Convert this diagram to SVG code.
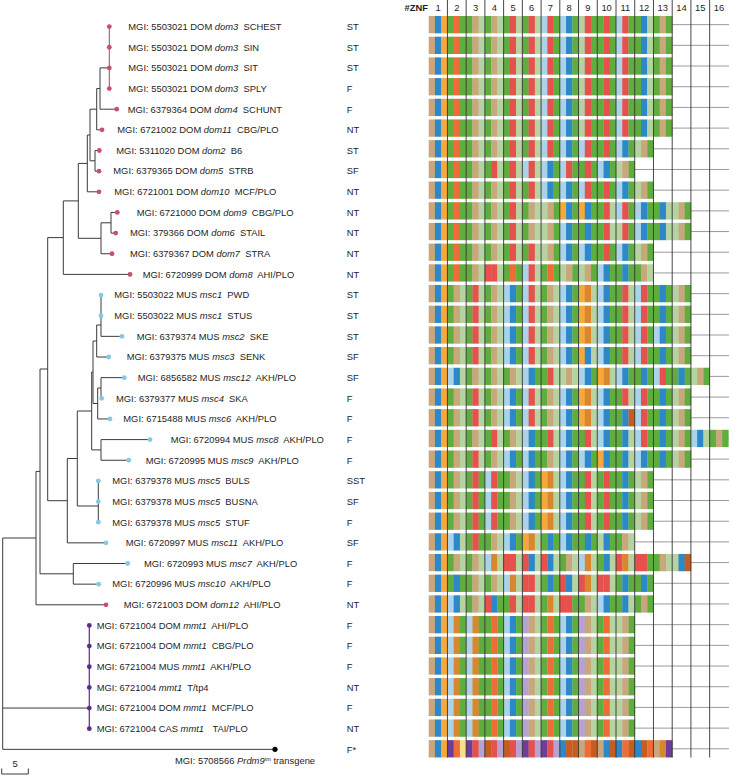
<svg xmlns="http://www.w3.org/2000/svg" width="729" height="776" viewBox="0 0 729 776">
<style>
text{font-family:"Liberation Sans",Arial,Helvetica,sans-serif;font-size:9.4px;fill:#1e1e1e}
.i{font-style:italic}
.hd{text-anchor:middle}
.tr{fill:none;stroke:#3a3a3a;stroke-width:1}
.dom{fill:#C8506A}.msc{fill:#86C8E6}.mmt{fill:#5A2C8E}
.hg{fill:none;stroke:#9a9a9a;stroke-width:1}
.vg{fill:none;stroke:#333;stroke-width:0.9}
</style>
<defs>
<rect id="T" width="6.5" height="17.3" fill="#C8A77D"/>
<rect id="B" width="6.5" height="17.3" fill="#2C88C8"/>
<rect id="O" width="6.5" height="17.3" fill="#F5A83C"/>
<rect id="G" width="6.5" height="17.3" fill="#5FAD3E"/>
<rect id="E" width="6.5" height="17.3" fill="#EE6C36"/>
<rect id="R" width="6.5" height="17.3" fill="#E6504D"/>
<rect id="S" width="6.5" height="17.3" fill="#B4D3A1"/>
<rect id="L" width="6.5" height="17.3" fill="#AAD3EA"/>
<rect id="D" width="6.5" height="17.3" fill="#D8872F"/>
<rect id="P" width="6.5" height="17.3" fill="#B6A2D2"/>
<rect id="V" width="6.5" height="17.3" fill="#6C3E99"/>
<rect id="U" width="6.5" height="17.3" fill="#C55D22"/>
<rect id="Y" width="6.5" height="17.3" fill="#F8E08A"/>
<g id="TBO"><use href="#T"/><use href="#B" x="6.24"/><use href="#O" x="12.49"/></g>
<g id="GEG"><use href="#G"/><use href="#E" x="6.24"/><use href="#G" x="12.49"/></g>
<g id="GTS"><use href="#G"/><use href="#T" x="6.24"/><use href="#S" x="12.49"/></g>
<g id="GRS"><use href="#G"/><use href="#R" x="6.24"/><use href="#S" x="12.49"/></g>
<g id="LRG"><use href="#L"/><use href="#R" x="6.24"/><use href="#G" x="12.49"/></g>
<g id="LBG"><use href="#L"/><use href="#B" x="6.24"/><use href="#G" x="12.49"/></g>
<g id="GRG"><use href="#G"/><use href="#R" x="6.24"/><use href="#G" x="12.49"/></g>
<g id="GBS"><use href="#G"/><use href="#B" x="6.24"/><use href="#S" x="12.49"/></g>
<g id="STG"><use href="#S"/><use href="#T" x="6.24"/><use href="#G" x="12.49"/></g>
<g id="LRS"><use href="#L"/><use href="#R" x="6.24"/><use href="#S" x="12.49"/></g>
<g id="OBG"><use href="#O"/><use href="#B" x="6.24"/><use href="#G" x="12.49"/></g>
<g id="GBG"><use href="#G"/><use href="#B" x="6.24"/><use href="#G" x="12.49"/></g>
<g id="SRG"><use href="#S"/><use href="#R" x="6.24"/><use href="#G" x="12.49"/></g>
<g id="RRS"><use href="#R"/><use href="#R" x="6.24"/><use href="#S" x="12.49"/></g>
<g id="ODS"><use href="#O"/><use href="#D" x="6.24"/><use href="#S" x="12.49"/></g>
<g id="OBS"><use href="#O"/><use href="#B" x="6.24"/><use href="#S" x="12.49"/></g>
<g id="LBS"><use href="#L"/><use href="#B" x="6.24"/><use href="#S" x="12.49"/></g>
<g id="STS"><use href="#S"/><use href="#T" x="6.24"/><use href="#S" x="12.49"/></g>
<g id="GBU"><use href="#G"/><use href="#B" x="6.24"/><use href="#U" x="12.49"/></g>
<g id="GTG"><use href="#G"/><use href="#T" x="6.24"/><use href="#G" x="12.49"/></g>
<g id="SBG"><use href="#S"/><use href="#B" x="6.24"/><use href="#G" x="12.49"/></g>
<g id="LDS"><use href="#L"/><use href="#D" x="6.24"/><use href="#S" x="12.49"/></g>
<g id="GDS"><use href="#G"/><use href="#D" x="6.24"/><use href="#S" x="12.49"/></g>
<g id="RBS"><use href="#R"/><use href="#B" x="6.24"/><use href="#S" x="12.49"/></g>
<g id="RDS"><use href="#R"/><use href="#D" x="6.24"/><use href="#S" x="12.49"/></g>
<g id="RRG"><use href="#R"/><use href="#R" x="6.24"/><use href="#G" x="12.49"/></g>
<g id="SBU"><use href="#S"/><use href="#B" x="6.24"/><use href="#U" x="12.49"/></g>
<g id="RRB"><use href="#R"/><use href="#R" x="6.24"/><use href="#B" x="12.49"/></g>
<g id="RBG"><use href="#R"/><use href="#B" x="6.24"/><use href="#G" x="12.49"/></g>
<g id="LDG"><use href="#L"/><use href="#D" x="6.24"/><use href="#G" x="12.49"/></g>
<g id="PTS"><use href="#P"/><use href="#T" x="6.24"/><use href="#S" x="12.49"/></g>
<g id="GES"><use href="#G"/><use href="#E" x="6.24"/><use href="#S" x="12.49"/></g>
<g id="VEY"><use href="#V"/><use href="#E" x="6.24"/><use href="#Y" x="12.49"/></g>
<g id="VRP"><use href="#V"/><use href="#R" x="6.24"/><use href="#P" x="12.49"/></g>
<g id="URP"><use href="#U"/><use href="#R" x="6.24"/><use href="#P" x="12.49"/></g>
<g id="BUU"><use href="#B"/><use href="#U" x="6.24"/><use href="#U" x="12.49"/></g>
<g id="TEU"><use href="#T"/><use href="#E" x="6.24"/><use href="#U" x="12.49"/></g>
<g id="TBU"><use href="#T"/><use href="#B" x="6.24"/><use href="#U" x="12.49"/></g>
<g id="BEU"><use href="#B"/><use href="#E" x="6.24"/><use href="#U" x="12.49"/></g>
<g id="BUE"><use href="#B"/><use href="#U" x="6.24"/><use href="#E" x="12.49"/></g>
<g id="TDV"><use href="#T"/><use href="#D" x="6.24"/><use href="#V" x="12.49"/></g>

<g id="rA"><use href="#TBO"/><use href="#GEG" x="18.73"/><use href="#GTS" x="37.46"/><use href="#GTS" x="56.19"/><use href="#GRS" x="74.92"/><use href="#GRS" x="93.65"/><use href="#LRG" x="112.38"/><use href="#LBG" x="131.11"/><use href="#SRG" x="149.84"/><use href="#GRG" x="168.57"/><use href="#LRG" x="187.3"/><use href="#GBS" x="206.03"/><use href="#GTG" x="224.76"/></g>
<g id="r07"><use href="#TBO"/><use href="#GEG" x="18.73"/><use href="#GTS" x="37.46"/><use href="#GTS" x="56.19"/><use href="#GRS" x="74.92"/><use href="#GRS" x="93.65"/><use href="#LRG" x="112.38"/><use href="#LBG" x="131.11"/><use href="#LRG" x="149.84"/><use href="#GRG" x="168.57"/><use href="#LBG" x="187.3"/><use href="#STG" x="206.03"/></g>
<g id="r08"><use href="#TBO"/><use href="#GEG" x="18.73"/><use href="#GTS" x="37.46"/><use href="#GRS" x="56.19"/><use href="#GRS" x="74.92"/><use href="#LRS" x="93.65"/><use href="#LBG" x="112.38"/><use href="#LRG" x="131.11"/><use href="#GRG" x="149.84"/><use href="#LBG" x="168.57"/><use href="#STG" x="187.3"/></g>
<g id="r09"><use href="#TBO"/><use href="#GEG" x="18.73"/><use href="#GTS" x="37.46"/><use href="#GTS" x="56.19"/><use href="#GRS" x="74.92"/><use href="#GRS" x="93.65"/><use href="#LBG" x="112.38"/><use href="#LBG" x="131.11"/><use href="#LRG" x="149.84"/><use href="#GRG" x="168.57"/><use href="#LBG" x="187.3"/><use href="#STG" x="206.03"/></g>
<g id="r10"><use href="#TBO"/><use href="#GEG" x="18.73"/><use href="#GTS" x="37.46"/><use href="#GTS" x="56.19"/><use href="#GRS" x="74.92"/><use href="#GTS" x="93.65"/><use href="#STG" x="112.38"/><use href="#OBG" x="131.11"/><use href="#OBG" x="149.84"/><use href="#GRS" x="168.57"/><use href="#LRG" x="187.3"/><use href="#LBG" x="206.03"/><use href="#GBS" x="224.76"/><use href="#STG" x="243.49"/></g>
<g id="r11"><use href="#TBO"/><use href="#GEG" x="18.73"/><use href="#GTS" x="37.46"/><use href="#GTS" x="56.19"/><use href="#GRS" x="74.92"/><use href="#GTS" x="93.65"/><use href="#STG" x="112.38"/><use href="#LBG" x="131.11"/><use href="#GBG" x="149.84"/><use href="#GRS" x="168.57"/><use href="#SRG" x="187.3"/><use href="#LBG" x="206.03"/><use href="#GBS" x="224.76"/><use href="#STG" x="243.49"/></g>
<g id="r12"><use href="#TBO"/><use href="#GEG" x="18.73"/><use href="#GTS" x="37.46"/><use href="#GTS" x="56.19"/><use href="#GRS" x="74.92"/><use href="#GRS" x="93.65"/><use href="#STG" x="112.38"/><use href="#LBG" x="131.11"/><use href="#LBG" x="149.84"/><use href="#GRG" x="168.57"/><use href="#LBG" x="187.3"/><use href="#STG" x="206.03"/></g>
<g id="r13"><use href="#TBO"/><use href="#GEG" x="18.73"/><use href="#GTS" x="37.46"/><use href="#RRS" x="56.19"/><use href="#GEG" x="74.92"/><use href="#LRS" x="93.65"/><use href="#GEG" x="112.38"/><use href="#STG" x="131.11"/><use href="#STG" x="149.84"/><use href="#LBG" x="168.57"/><use href="#GBG" x="187.3"/><use href="#GTS" x="206.03"/></g>
<g id="r14"><use href="#TBO"/><use href="#GTS" x="18.73"/><use href="#GRS" x="37.46"/><use href="#GTS" x="56.19"/><use href="#LBG" x="74.92"/><use href="#LRS" x="93.65"/><use href="#GTS" x="112.38"/><use href="#LBG" x="131.11"/><use href="#ODS" x="149.84"/><use href="#LBG" x="168.57"/><use href="#GRS" x="187.3"/><use href="#LRG" x="206.03"/><use href="#GBG" x="224.76"/><use href="#STG" x="243.49"/></g>
<g id="r16"><use href="#TBO"/><use href="#GTS" x="18.73"/><use href="#GRS" x="37.46"/><use href="#GTS" x="56.19"/><use href="#LBG" x="74.92"/><use href="#LRS" x="93.65"/><use href="#GTS" x="112.38"/><use href="#LBG" x="131.11"/><use href="#ODS" x="149.84"/><use href="#LBG" x="168.57"/><use href="#GRS" x="187.3"/><use href="#LRG" x="206.03"/><use href="#LBG" x="224.76"/><use href="#STG" x="243.49"/></g>
<g id="r17"><use href="#TBO"/><use href="#GTS" x="18.73"/><use href="#GRS" x="37.46"/><use href="#GTS" x="56.19"/><use href="#LBG" x="74.92"/><use href="#LRS" x="93.65"/><use href="#GTS" x="112.38"/><use href="#LBG" x="131.11"/><use href="#OBS" x="149.84"/><use href="#LBG" x="168.57"/><use href="#GRS" x="187.3"/><use href="#LRG" x="206.03"/><use href="#GBG" x="224.76"/><use href="#STG" x="243.49"/></g>
<g id="r18"><use href="#TBO"/><use href="#LBS" x="18.73"/><use href="#GTS" x="37.46"/><use href="#GTS" x="56.19"/><use href="#GTS" x="74.92"/><use href="#LBG" x="93.65"/><use href="#GRS" x="112.38"/><use href="#STS" x="131.11"/><use href="#LBG" x="149.84"/><use href="#ODS" x="168.57"/><use href="#LBG" x="187.3"/><use href="#GBG" x="206.03"/><use href="#LRG" x="224.76"/><use href="#GBG" x="243.49"/><use href="#STG" x="262.22"/></g>
<g id="r20"><use href="#TBO"/><use href="#GTS" x="18.73"/><use href="#GRS" x="37.46"/><use href="#GTS" x="56.19"/><use href="#LBG" x="74.92"/><use href="#LRS" x="93.65"/><use href="#GTS" x="112.38"/><use href="#LBG" x="131.11"/><use href="#ODS" x="149.84"/><use href="#LBG" x="168.57"/><use href="#GBU" x="187.3"/><use href="#LRG" x="206.03"/><use href="#GBG" x="224.76"/><use href="#STG" x="243.49"/></g>
<g id="r21"><use href="#TBO"/><use href="#GTS" x="18.73"/><use href="#GTS" x="37.46"/><use href="#GRS" x="56.19"/><use href="#GTS" x="74.92"/><use href="#LBG" x="93.65"/><use href="#GRS" x="112.38"/><use href="#LBG" x="131.11"/><use href="#GRS" x="149.84"/><use href="#LBG" x="168.57"/><use href="#GBS" x="187.3"/><use href="#LRG" x="206.03"/><use href="#GBG" x="224.76"/><use href="#STG" x="243.49"/><use href="#LBS" x="262.22"/><use href="#GTG" x="280.95"/></g>
<g id="r22"><use href="#TBO"/><use href="#GTS" x="18.73"/><use href="#GRS" x="37.46"/><use href="#GTS" x="56.19"/><use href="#LBG" x="74.92"/><use href="#LBG" x="93.65"/><use href="#GTS" x="112.38"/><use href="#LBG" x="131.11"/><use href="#LBG" x="149.84"/><use href="#OBG" x="168.57"/><use href="#GBS" x="187.3"/><use href="#LBG" x="206.03"/><use href="#GBG" x="224.76"/><use href="#STG" x="243.49"/></g>
<g id="r23"><use href="#TBO"/><use href="#GTS" x="18.73"/><use href="#GRG" x="37.46"/><use href="#LRG" x="56.19"/><use href="#GTS" x="74.92"/><use href="#LBG" x="93.65"/><use href="#ODS" x="112.38"/><use href="#LBG" x="131.11"/><use href="#GRS" x="149.84"/><use href="#GRG" x="168.57"/><use href="#GBG" x="187.3"/><use href="#STG" x="206.03"/></g>
<g id="r26"><use href="#TBO"/><use href="#LBS" x="18.73"/><use href="#GRG" x="37.46"/><use href="#GTS" x="56.19"/><use href="#LBG" x="74.92"/><use href="#ODS" x="93.65"/><use href="#GBG" x="112.38"/><use href="#LBG" x="131.11"/><use href="#GBG" x="149.84"/><use href="#SBG" x="168.57"/><use href="#GTS" x="187.3"/></g>
<g id="r27"><use href="#TBO"/><use href="#GTS" x="18.73"/><use href="#GTS" x="37.46"/><use href="#LDS" x="56.19"/><use href="#RRS" x="74.92"/><use href="#RBS" x="93.65"/><use href="#RBS" x="112.38"/><use href="#GTS" x="131.11"/><use href="#LDS" x="149.84"/><use href="#GBS" x="168.57"/><use href="#RDS" x="187.3"/><use href="#RRG" x="206.03"/><use href="#GTS" x="224.76"/><use href="#SBU" x="243.49"/></g>
<g id="r28"><use href="#TBO"/><use href="#GBG" x="18.73"/><use href="#GTS" x="37.46"/><use href="#GTS" x="56.19"/><use href="#LDS" x="74.92"/><use href="#RRS" x="93.65"/><use href="#GBG" x="112.38"/><use href="#RBS" x="131.11"/><use href="#RDS" x="149.84"/><use href="#RRS" x="168.57"/><use href="#GBG" x="187.3"/><use href="#GBG" x="206.03"/></g>
<g id="r29"><use href="#TBO"/><use href="#LBS" x="18.73"/><use href="#GTS" x="37.46"/><use href="#RBG" x="56.19"/><use href="#GRS" x="74.92"/><use href="#RRS" x="93.65"/><use href="#GDS" x="112.38"/><use href="#RRG" x="131.11"/><use href="#GTS" x="149.84"/><use href="#LBG" x="168.57"/><use href="#GBS" x="187.3"/><use href="#GTG" x="206.03"/></g>
<g id="r30"><use href="#TBO"/><use href="#LDG" x="18.73"/><use href="#LDG" x="37.46"/><use href="#GEG" x="56.19"/><use href="#LBG" x="74.92"/><use href="#PTS" x="93.65"/><use href="#GEG" x="112.38"/><use href="#LBG" x="131.11"/><use href="#PTS" x="149.84"/><use href="#GES" x="168.57"/><use href="#STG" x="187.3"/></g>
<g id="r36"><use href="#TBO"/><use href="#VEY" x="18.73"/><use href="#VRP" x="37.46"/><use href="#URP" x="56.19"/><use href="#URP" x="74.92"/><use href="#VRP" x="93.65"/><use href="#VRP" x="112.38"/><use href="#BUU" x="131.11"/><use href="#TEU" x="149.84"/><use href="#TBU" x="168.57"/><use href="#BEU" x="187.3"/><use href="#BUE" x="206.03"/><use href="#TDV" x="224.76"/></g>
</defs>

<rect width="729" height="776" fill="#fff"/>

<g id="header">
<text x="428" y="11" style="font-weight:bold;text-anchor:end">#ZNF</text>
<text class="hd" x="438.07" y="11">1</text><text class="hd" x="456.8" y="11">2</text><text class="hd" x="475.53" y="11">3</text><text class="hd" x="494.26" y="11">4</text><text class="hd" x="512.99" y="11">5</text><text class="hd" x="531.72" y="11">6</text><text class="hd" x="550.45" y="11">7</text><text class="hd" x="569.18" y="11">8</text><text class="hd" x="587.91" y="11">9</text><text class="hd" x="606.64" y="11">10</text><text class="hd" x="625.37" y="11">11</text><text class="hd" x="644.1" y="11">12</text><text class="hd" x="662.83" y="11">13</text><text class="hd" x="681.56" y="11">14</text><text class="hd" x="700.29" y="11">15</text><text class="hd" x="719.02" y="11">16</text>
</g>

<g id="row-gridlines">
<path class="hg" d="M429 24.65H729M429 45.34H729M429 66.03H729M429 86.72H729M429 107.41H729M429 128.1H729M429 148.79H729M429 169.48H729M429 190.17H729M429 210.86H729M429 231.55H729M429 252.24H729M429 272.93H729M429 293.62H729M429 314.31H729M429 335H729M429 355.69H729M429 376.38H729M429 397.07H729M429 417.76H729M429 438.45H729M429 459.14H729M429 479.83H729M429 500.52H729M429 521.21H729M429 541.9H729M429 562.59H729M429 583.28H729M429 603.97H729M429 624.66H729M429 645.35H729M429 666.04H729M429 686.73H729M429 707.42H729M429 728.11H729M429 748.8H729"/>
</g>

<g id="connectors">
<path class="tr" d="M100 67.9H109.3M100 67.9V109.2H116.7M96.7 88.55H100M96.7 88.55V129.85H102M90 109.2H96.7M95 150.5V171.15M95 150.5H99.3M95 171.15H99M90 160.8H95M90 109.2V160.8M87.3 135H90M87.3 135V191.8H99M78.3 163.4H87.3M111 212.45V233.1M111 212.45H117.3M111 233.1H115.7M101 222.8H111M101 222.8V253.75H112M78.3 238.3H101M78.3 163.4V238.3M63.3 200.9H78.3M63.3 200.9V274.4H130M47.7 237.6H63.3"/>
<path class="tr" d="M101 295.05V336.35H122M96.7 325H101M96.7 325V357H108.7M93 341H96.7M101 377.65V398.3M101 377.65H124.3M101 398.3H101.7M97.7 388H101M97.7 388V418.95H110M93 403.5H97.7M93 341V403.5M91.7 372H93M101 439.6V460.25M101 439.6H150M101 460.25H128.7M91.7 449.9H101M91.7 372V449.9M77.3 411H91.7M98.3 480.9V522.2M77.3 506H98.3M77.3 411V506M67.3 458.5H77.3M67.3 458.5V542.85H106M47.7 500.7H67.3M47.7 237.6V500.7M40 369H47.7M73.3 563.5V584.15M73.3 563.5H127.7M73.3 584.15H98.7M40 573.8H73.3M40 369V573.8M36 471.4H40M36 471.4V604.8H106M2.7 538H36M2.7 538V749.35H275M2.7 708.05H89.3"/>
<path d="M109.3 26.6V88.55" fill="none" stroke="#9a4a5e" stroke-width="1"/>
<path d="M89.3 625.45V728.7" fill="none" stroke="#5A2C8E" stroke-width="1.2"/>
<path class="tr" d="M1.7 768.5V774H28.3V768.5"/>
</g>
<text id="scale-label" x="15" y="767" text-anchor="middle">5</text>

<g id="leaf01"><circle class="dom" cx="109.3" cy="26.6" r="2.4"/><text x="128.3" y="29.9">MGI: 5503021 DOM <tspan class="i">dom3</tspan><tspan dx="2.6"> SCHEST</tspan></text><text x="346.7" y="29.9">ST</text><use href="#rA" x="428.7" y="16"/></g>
<g id="leaf02"><circle class="dom" cx="109.3" cy="47.25" r="2.4"/><text x="128.3" y="50.55">MGI: 5503021 DOM <tspan class="i">dom3</tspan><tspan dx="2.6"> SIN</tspan></text><text x="346.7" y="50.55">ST</text><use href="#rA" x="428.7" y="36.69"/></g>
<g id="leaf03"><circle class="dom" cx="109.3" cy="67.9" r="2.4"/><text x="128.3" y="71.2">MGI: 5503021 DOM <tspan class="i">dom3</tspan><tspan dx="2.6"> SIT</tspan></text><text x="346.7" y="71.2">ST</text><use href="#rA" x="428.7" y="57.38"/></g>
<g id="leaf04"><circle class="dom" cx="109.3" cy="88.55" r="2.4"/><text x="128.3" y="91.85">MGI: 5503021 DOM <tspan class="i">dom3</tspan><tspan dx="2.6"> SPLY</tspan></text><text x="346.7" y="91.85">F</text><use href="#rA" x="428.7" y="78.07"/></g>
<g id="leaf05"><circle class="dom" cx="116.7" cy="109.2" r="2.4"/><text x="127.7" y="112.5">MGI: 6379364 DOM <tspan class="i">dom4</tspan><tspan dx="2.6"> SCHUNT</tspan></text><text x="346.7" y="112.5">F</text><use href="#rA" x="428.7" y="98.76"/></g>
<g id="leaf06"><circle class="dom" cx="102" cy="129.85" r="2.4"/><text x="117.3" y="133.15">MGI: 6721002 DOM <tspan class="i">dom11</tspan><tspan dx="2.6"> CBG/PLO</tspan></text><text x="346.7" y="133.15">NT</text><use href="#rA" x="428.7" y="119.45"/></g>
<g id="leaf07"><circle class="dom" cx="99.3" cy="150.5" r="2.4"/><text x="116.3" y="153.8">MGI: 5311020 DOM <tspan class="i">dom2</tspan><tspan dx="2.6"> B6</tspan></text><text x="346.7" y="153.8">ST</text><use href="#r07" x="428.7" y="140.14"/></g>
<g id="leaf08"><circle class="dom" cx="99" cy="171.15" r="2.4"/><text x="113.3" y="174.45">MGI: 6379365 DOM <tspan class="i">dom5</tspan><tspan dx="2.6"> STRB</tspan></text><text x="346.7" y="174.45">SF</text><use href="#r08" x="428.7" y="160.83"/></g>
<g id="leaf09"><circle class="dom" cx="99" cy="191.8" r="2.4"/><text x="114.3" y="195.1">MGI: 6721001 DOM <tspan class="i">dom10</tspan><tspan dx="2.6"> MCF/PLO</tspan></text><text x="346.7" y="195.1">NT</text><use href="#r09" x="428.7" y="181.52"/></g>
<g id="leaf10"><circle class="dom" cx="117.3" cy="212.45" r="2.4"/><text x="136.7" y="215.75">MGI: 6721000 DOM <tspan class="i">dom9</tspan><tspan dx="2.6"> CBG/PLO</tspan></text><text x="346.7" y="215.75">NT</text><use href="#r10" x="428.7" y="202.21"/></g>
<g id="leaf11"><circle class="dom" cx="115.7" cy="233.1" r="2.4"/><text x="130" y="236.4">MGI: 379366 DOM <tspan class="i">dom6</tspan><tspan dx="2.6"> STAIL</tspan></text><text x="346.7" y="236.4">NT</text><use href="#r11" x="428.7" y="222.9"/></g>
<g id="leaf12"><circle class="dom" cx="112" cy="253.75" r="2.4"/><text x="130" y="257.05">MGI: 6379367 DOM <tspan class="i">dom7</tspan><tspan dx="2.6"> STRA</tspan></text><text x="346.7" y="257.05">NT</text><use href="#r12" x="428.7" y="243.59"/></g>
<g id="leaf13"><circle class="dom" cx="130" cy="274.4" r="2.4"/><text x="142.7" y="277.7">MGI: 6720999 DOM <tspan class="i">dom8</tspan><tspan dx="2.6"> AHI/PLO</tspan></text><text x="346.7" y="277.7">NT</text><use href="#r13" x="428.7" y="264.28"/></g>
<g id="leaf14"><circle class="msc" cx="101" cy="295.05" r="2.4"/><text x="114.3" y="298.35">MGI: 5503022 MUS <tspan class="i">msc1</tspan><tspan dx="2.6"> PWD</tspan></text><text x="346.7" y="298.35">ST</text><use href="#r14" x="428.7" y="284.97"/></g>
<g id="leaf15"><circle class="msc" cx="101" cy="315.7" r="2.4"/><text x="114.3" y="319">MGI: 5503022 MUS <tspan class="i">msc1</tspan><tspan dx="2.6"> STUS</tspan></text><text x="346.7" y="319">ST</text><use href="#r14" x="428.7" y="305.66"/></g>
<g id="leaf16"><circle class="msc" cx="122" cy="336.35" r="2.4"/><text x="136.7" y="339.65">MGI: 6379374 MUS <tspan class="i">msc2</tspan><tspan dx="2.6"> SKE</tspan></text><text x="346.7" y="339.65">ST</text><use href="#r16" x="428.7" y="326.35"/></g>
<g id="leaf17"><circle class="msc" cx="108.7" cy="357" r="2.4"/><text x="126.7" y="360.3">MGI: 6379375 MUS <tspan class="i">msc3</tspan><tspan dx="2.6"> SENK</tspan></text><text x="346.7" y="360.3">SF</text><use href="#r17" x="428.7" y="347.04"/></g>
<g id="leaf18"><circle class="msc" cx="124.3" cy="377.65" r="2.4"/><text x="137.7" y="380.95">MGI: 6856582 MUS <tspan class="i">msc12</tspan><tspan dx="2.6"> AKH/PLO</tspan></text><text x="346.7" y="380.95">SF</text><use href="#r18" x="428.7" y="367.73"/></g>
<g id="leaf19"><circle class="msc" cx="101.7" cy="398.3" r="2.4"/><text x="116" y="401.6">MGI: 6379377 MUS <tspan class="i">msc4</tspan><tspan dx="2.6"> SKA</tspan></text><text x="346.7" y="401.6">F</text><use href="#r14" x="428.7" y="388.42"/></g>
<g id="leaf20"><circle class="msc" cx="110" cy="418.95" r="2.4"/><text x="123.3" y="422.25">MGI: 6715488 MUS <tspan class="i">msc6</tspan><tspan dx="2.6"> AKH/PLO</tspan></text><text x="346.7" y="422.25">F</text><use href="#r20" x="428.7" y="409.11"/></g>
<g id="leaf21"><circle class="msc" cx="150" cy="439.6" r="2.4"/><text x="170.7" y="442.9">MGI: 6720994 MUS <tspan class="i">msc8</tspan><tspan dx="2.6"> AKH/PLO</tspan></text><text x="346.7" y="442.9">F</text><use href="#r21" x="428.7" y="429.8"/></g>
<g id="leaf22"><circle class="msc" cx="128.7" cy="460.25" r="2.4"/><text x="145.7" y="463.55">MGI: 6720995 MUS <tspan class="i">msc9</tspan><tspan dx="2.6"> AKH/PLO</tspan></text><text x="346.7" y="463.55">F</text><use href="#r22" x="428.7" y="450.49"/></g>
<g id="leaf23"><circle class="msc" cx="98.3" cy="480.9" r="2.4"/><text x="112.3" y="484.2">MGI: 6379378 MUS <tspan class="i">msc5</tspan><tspan dx="2.6"> BULS</tspan></text><text x="346.7" y="484.2">SST</text><use href="#r23" x="428.7" y="471.18"/></g>
<g id="leaf24"><circle class="msc" cx="98.3" cy="501.55" r="2.4"/><text x="112.3" y="504.85">MGI: 6379378 MUS <tspan class="i">msc5</tspan><tspan dx="2.6"> BUSNA</tspan></text><text x="346.7" y="504.85">SF</text><use href="#r23" x="428.7" y="491.87"/></g>
<g id="leaf25"><circle class="msc" cx="98.3" cy="522.2" r="2.4"/><text x="112.3" y="525.5">MGI: 6379378 MUS <tspan class="i">msc5</tspan><tspan dx="2.6"> STUF</tspan></text><text x="346.7" y="525.5">F</text><use href="#r23" x="428.7" y="512.56"/></g>
<g id="leaf26"><circle class="msc" cx="106" cy="542.85" r="2.4"/><text x="125.7" y="546.15">MGI: 6720997 MUS <tspan class="i">msc11</tspan><tspan dx="2.6"> AKH/PLO</tspan></text><text x="346.7" y="546.15">SF</text><use href="#r26" x="428.7" y="533.25"/></g>
<g id="leaf27"><circle class="msc" cx="127.7" cy="563.5" r="2.4"/><text x="144" y="566.8">MGI: 6720993 MUS <tspan class="i">msc7</tspan><tspan dx="2.6"> AKH/PLO</tspan></text><text x="346.7" y="566.8">F</text><use href="#r27" x="428.7" y="553.94"/></g>
<g id="leaf28"><circle class="msc" cx="98.7" cy="584.15" r="2.4"/><text x="112.3" y="587.45">MGI: 6720996 MUS <tspan class="i">msc10</tspan><tspan dx="2.6"> AKH/PLO</tspan></text><text x="346.7" y="587.45">F</text><use href="#r28" x="428.7" y="574.63"/></g>
<g id="leaf29"><circle class="dom" cx="106" cy="604.8" r="2.4"/><text x="123.7" y="608.1">MGI: 6721003 DOM <tspan class="i">dom12</tspan><tspan dx="2.6"> AHI/PLO</tspan></text><text x="346.7" y="608.1">NT</text><use href="#r29" x="428.7" y="595.32"/></g>
<g id="leaf30"><circle class="mmt" cx="89.3" cy="625.45" r="2.4"/><text x="96.7" y="628.75">MGI: 6721004 DOM <tspan class="i">mmt1</tspan><tspan dx="2.6"> AHI/PLO</tspan></text><text x="346.7" y="628.75">F</text><use href="#r30" x="428.7" y="616.01"/></g>
<g id="leaf31"><circle class="mmt" cx="89.3" cy="646.1" r="2.4"/><text x="96.7" y="649.4">MGI: 6721004 DOM <tspan class="i">mmt1</tspan><tspan dx="2.6"> CBG/PLO</tspan></text><text x="346.7" y="649.4">F</text><use href="#r30" x="428.7" y="636.7"/></g>
<g id="leaf32"><circle class="mmt" cx="89.3" cy="666.75" r="2.4"/><text x="96.7" y="670.05">MGI: 6721004 MUS <tspan class="i">mmt1</tspan><tspan dx="2.6"> AKH/PLO</tspan></text><text x="346.7" y="670.05">F</text><use href="#r30" x="428.7" y="657.39"/></g>
<g id="leaf33"><circle class="mmt" cx="89.3" cy="687.4" r="2.4"/><text x="96.7" y="690.7">MGI: 6721004 <tspan class="i">mmt1</tspan><tspan dx="2.6"> T/tp4</tspan></text><text x="346.7" y="690.7">NT</text><use href="#r30" x="428.7" y="678.08"/></g>
<g id="leaf34"><circle class="mmt" cx="89.3" cy="708.05" r="2.4"/><text x="96.7" y="711.35">MGI: 6721004 DOM <tspan class="i">mmt1</tspan><tspan dx="2.6"> MCF/PLO</tspan></text><text x="346.7" y="711.35">F</text><use href="#r30" x="428.7" y="698.77"/></g>
<g id="leaf35"><circle class="mmt" cx="89.3" cy="728.7" r="2.4"/><text x="96.7" y="732">MGI: 6721004 CAS <tspan class="i">mmt1</tspan><tspan dx="6"> TAI/PLO</tspan></text><text x="346.7" y="732">NT</text><use href="#r30" x="428.7" y="719.46"/></g>
<g id="leaf36"><circle fill="#000" cx="275" cy="749.35" r="2.6"/><text x="175" y="764">MGI: 5708566 <tspan class="i">Prdm9</tspan><tspan font-size="5.5" dy="-3.5">tm</tspan><tspan dy="3.5"> transgene</tspan></text><text x="346.7" y="752.65">F*</text><use href="#r36" x="428.7" y="740.15"/></g>

<g id="column-gridlines">
<path class="vg" d="M447.43 0V757.5M466.16 0V757.5M484.89 0V757.5M503.62 0V757.5M522.35 0V757.5M541.08 0V757.5M559.81 0V757.5M578.54 0V757.5M597.27 0V757.5M616 0V757.5M634.73 0V757.5M653.46 0V757.5M672.19 0V757.5M690.92 0V757.5M709.65 0V757.5"/>
</g>
</svg>
